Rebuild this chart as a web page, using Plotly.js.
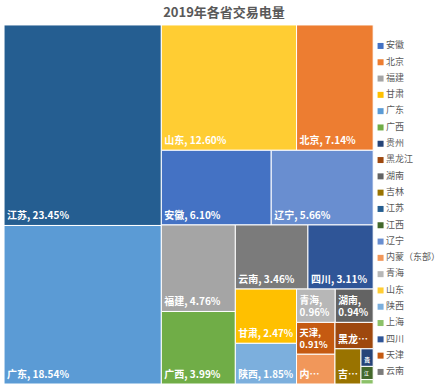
<!DOCTYPE html>
<html>
<head>
<meta charset="utf-8">
<script src="https://cdn.plot.ly/plotly-3.0.1.min.js"></script>
<style>html,body{margin:0;padding:0;background:#fff;}#chart{width:448px;height:384px;}</style>
</head>
<body>
<div id="chart"></div>
<script>
// Data (share of 2019 trading electricity, %)
const categories = ["安徽","北京","福建","甘肃","广东","广西","贵州","黑龙江","湖南","吉林","江苏","江西","辽宁","内蒙（东部）","青海","山东","陕西","上海","四川","天津","云南"];
const shares     = [6.10, 7.14, 4.76, 2.47, 18.54, 3.99, 0.16, 0.75, 0.94, 0.68, 23.45, 0.12, 5.66, 0.85, 0.96, 12.60, 1.85, 0.04, 3.11, 0.91, 3.46];
const colors     = ["#4472C4","#ED7D31","#A5A5A5","#FFC000","#5B9BD5","#70AD47","#264478","#9E480E","#636363","#997300","#255E91","#43682B","#698ED0","#F1975A","#B7B7B7","#FFCD33","#7CAFDD","#8CC168","#2F5597","#C55A11","#7B7B7B"];
// How the tile labels are shown (wrapped or truncated as in the reference)
const wrapped    = ["青海","湖南","天津"];
const truncated  = {"黑龙江": "黑龙…", "内蒙（东部）": "内…", "吉林": "吉…", "贵州": "贵", "江西": "江", "上海": ""};

const FONT = "'Noto Sans CJK SC', 'Noto Sans', sans-serif";

const tm = {
  type: 'treemap',
  labels: categories,
  parents: categories.map(() => ""),
  values: shares,
  sort: true,
  texttemplate: categories.map(c => c in truncated ? truncated[c] :
                 (wrapped.includes(c) ? "%{label},<br>%{value:.2f}%" : "%{label}, %{value:.2f}%")),
  textposition: 'bottom left',
  textfont: {family: FONT, size: 10, color: '#ffffff', weight: 'bold'},
  hoverinfo: 'label+value',
  marker: {colors: colors, line: {width: 1, color: '#ffffff'}, pad: {t: 0, l: 0, r: 0, b: 0}},
  tiling: {packing: 'squarify', squarifyratio: 1, pad: 0},
  pathbar: {visible: false},
  domain: {x: [0.009, 0.833], y: [0, 0.935]}
};

// Legend drawn as a category column on its own hidden axes
const legendMarks = {
  type: 'scatter', mode: 'markers',
  x: categories.map(() => 2.5), y: categories.map((c, i) => i),
  marker: {symbol: 'square', size: 6, color: colors},
  hoverinfo: 'skip', cliponaxis: false, showlegend: false
};
const legendTexts = {
  type: 'scatter', mode: 'text',
  x: categories.map(() => 8), y: categories.map((c, i) => i),
  text: categories, textposition: 'middle right',
  textfont: {family: FONT, size: 9, color: '#595959'},
  hoverinfo: 'skip', cliponaxis: false, showlegend: false
};

const layout = {
  width: 448, height: 384,
  margin: {l: 0, r: 0, t: 0, b: 0},
  paper_bgcolor: '#ffffff', plot_bgcolor: '#ffffff',
  showlegend: false,
  title: {text: '2019年各省交易电量', x: 0.5, xanchor: 'center', y: 0.968, yref: 'container', yanchor: 'middle',
          font: {family: FONT, size: 13, color: '#595959', weight: 'bold'}},
  xaxis: {visible: false, domain: [0.835, 1], range: [-4, 70], fixedrange: true},
  yaxis: {visible: false, domain: [0, 1], range: [20.74, -2.82], fixedrange: true}
};

Plotly.newPlot('chart', [tm, legendMarks, legendTexts], layout, {displayModeBar: false, staticPlot: true});
</script>
</body>
</html>
